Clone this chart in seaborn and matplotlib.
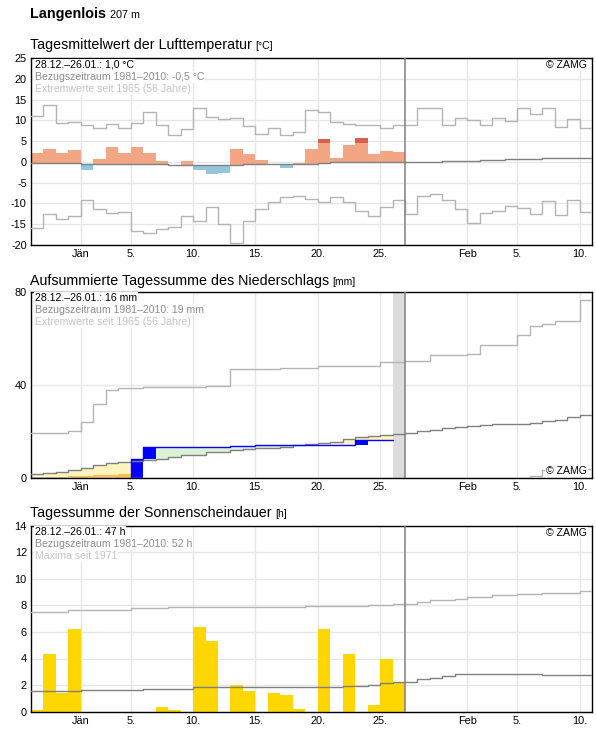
import numpy as np
import matplotlib
matplotlib.use("Agg")
import matplotlib.pyplot as plt
import seaborn as sns

# x position of a day: 0 = 1. Jänner, -4 = 28.12., 40 = 10.02.
days = list(range(-4, 41))
obs_days = list(range(-4, 26))          # 28.12. - 26.01.
tick_pos = [0, 4, 9, 14, 19, 24, 31, 35, 40]
tick_labels = ["Jän", "5.", "10.", "15.", "20.", "25.", "Feb", "5.", "10."]

# --- Lufttemperatur (°C) ---
temp_obs = [2.1, 3.0, 2.1, 2.75, -2.0, 0.8, 3.7, 2.1, 3.5, 2.1, 0.3, -0.7, 0.15, -2.0, -3.0,
            -2.75, 3.0, 1.9, 0.55, -0.4, -1.5, -0.3, 3.2, 5.4, 1.05, 4.0, 5.7, 1.85, 2.6, 2.35]
temp_dark_days = [19, 22]
temp_dark_from = [4.5, 4.5]
temp_ref = [-0.2, -0.3, -0.3, -0.3, -0.4, -0.4, -0.4, -0.4, -0.5, -0.5, -0.5, -0.7, -0.7, -0.7,
            -0.7, -0.7, -0.7, -0.6, -0.5, -0.5, -0.5, -0.5, -0.5, -0.3, -0.1, -0.1, -0.1, -0.1,
            -0.1, -0.1, 0.0, 0.0, 0.0, 0.25, 0.25, 0.25, 0.5, 0.5, 0.75, 0.75, 0.75, 0.95, 0.95,
            0.95, 0.95]
temp_max = [11.1, 13.7, 9.5, 9.7, 8.8, 8.25, 9.2, 8.25, 9.5, 12.0, 8.8, 6.4, 8.0, 13.1, 10.8,
            10.4, 10.5, 8.7, 6.8, 8.25, 6.55, 7.2, 12.4, 12.1, 9.6, 9.05, 8.8, 8.9, 8.25, 8.9,
            8.8, 13.1, 13.1, 9.0, 10.7, 10.0, 9.0, 10.7, 9.8, 12.9, 11.6, 12.9, 8.5, 10.4, 8.25]
temp_min = [-16.0, -12.5, -13.8, -13.1, -9.2, -11.4, -12.4, -12.1, -16.7, -17.2, -16.3, -15.8,
            -13.1, -14.3, -10.9, -15.0, -19.7, -14.3, -11.4, -9.7, -8.5, -8.25, -9.0, -9.7, -8.5,
            -9.7, -11.9, -13.1, -10.9, -9.2, -12.5, -8.2, -7.8, -9.2, -11.4, -14.8, -12.4, -11.9,
            -10.6, -11.2, -12.6, -9.5, -12.8, -9.2, -12.1]

# --- Niederschlag, aufsummiert (mm) ---
precip_obs = [0, 0, 0, 0, 0, 0.3, 0.3, 0.3, 8.2, 13.4, 13.4, 13.4, 13.4, 13.4, 13.4, 13.4,
              13.8, 13.8, 14.3, 14.3, 14.3, 14.3, 14.3, 14.3, 14.3, 14.3, 16.4, 16.4, 16.4, np.nan]
precip_orange = [0, 0.7, 0.7, 0.85, 0.85, 1.4, 1.4, 1.8]
precip_ref = [1.9, 2.3, 2.7, 3.4, 4.4, 5.7, 6.5, 6.9, 7.5, 7.9, 8.35, 9.2, 10.2, 10.2, 11.2,
              11.2, 12.2, 12.5, 13.0, 13.0, 13.55, 14.3, 14.7, 15.0, 15.7, 16.9, 17.7, 18.2,
              18.7, 19.0, 19.5, 20.3, 20.9, 21.6, 21.9, 22.4, 22.8, 23.1, 23.1, 23.1, 23.6,
              24.4, 25.2, 26.1, 27.3]
precip_max = [19.5, 19.5, 19.5, 20.2, 24.2, 32.0, 37.8, 38.6, 38.9, 39.1, 39.3, 39.3, 39.3,
              39.3, 39.4, 39.6, 46.7, 47.0, 47.0, 47.0, 47.2, 47.5, 47.5, 48.1, 48.1, 48.1,
              48.1, 48.1, 49.9, 49.9, 50.3, 50.3, 52.7, 52.7, 52.7, 53.5, 57.0, 57.0, 57.0,
              61.6, 65.5, 66.1, 67.5, 67.5, 76.6]
precip_min = [0] * 40 + [1.0, 3.7, 3.7, 4.0, 4.0]

# --- Sonnenscheindauer (h) ---
sun_obs = [0.13, 4.37, 1.44, 6.19, 0, 0, 0, 0, 0, 0, 0.35, 0.13, 0, 6.36, 5.35, 0, 2.02, 1.57,
           0, 1.41, 1.26, 0.2, 0, 6.19, 0, 4.37, 0, 0.5, 3.99, 2.2]
sun_ref = [1.52, 1.52, 1.52, 1.52, 1.6, 1.6, 1.6, 1.6, 1.6, 1.69, 1.69, 1.69, 1.69, 1.84, 1.84,
           1.84, 1.84, 1.84, 1.84, 1.84, 1.84, 1.84, 1.84, 1.84, 1.84, 1.92, 1.92, 2.0, 2.15,
           2.25, 2.25, 2.45, 2.53, 2.65, 2.8, 2.85, 2.85, 2.85, 2.85, 2.85, 2.85, 2.78, 2.78,
           2.78, 2.78]
sun_max = [7.5, 7.5, 7.5, 7.68, 7.68, 7.68, 7.68, 7.68, 7.78, 7.78, 7.78, 7.85, 7.85, 7.85,
           7.85, 7.85, 7.85, 7.85, 7.85, 7.85, 7.85, 7.85, 7.98, 7.98, 7.98, 7.98, 7.98, 8.03,
           8.03, 8.13, 8.13, 8.28, 8.38, 8.38, 8.48, 8.59, 8.66, 8.74, 8.74, 8.86, 8.86, 8.96,
           8.96, 8.96, 9.04]

W, H = 596, 729
sns.set_theme(style="white")
plt.rcParams["font.family"] = ["Liberation Sans", "DejaVu Sans"]
plt.rcParams["axes.unicode_minus"] = False

fig = plt.figure(figsize=(W / 100, H / 100), dpi=100)
renderer = fig.canvas.get_renderer()


def px_axes(top, bottom, left=31, right=592):
    return fig.add_axes([left / W, 1 - bottom / H, (right - left) / W, (bottom - top) / H])


def step_line(ax, vals, color, x=None):
    x = list(days if x is None else x)
    xs = x + [x[-1] + 1]
    ys = list(vals) + [vals[-1]]
    sns.lineplot(x=xs, y=ys, ax=ax, color=color, lw=1.0, drawstyle="steps-post",
                 estimator=None, sort=False, legend=False, zorder=4)


def setup(ax, yticks, ylim):
    ax.set_xlim(-4, 41)
    ax.set_ylim(*ylim)
    ax.set_xticks(tick_pos)
    ax.set_xticklabels(tick_labels)
    ax.set_yticks(yticks)
    ax.grid(True, color="#e6e6e6", lw=1)
    ax.set_axisbelow(True)
    for s in ax.spines.values():
        s.set_color("black")
        s.set_linewidth(1)
    ax.tick_params(length=0, labelsize=7.9, pad=3, colors="black")
    ax.set_xlabel("")
    ax.set_ylabel("")


def info(ax, lines, zamg_top=True):
    colors = ["black", "#8c8c8c", "#c4c4c4"]
    for i, (txt, c) in enumerate(zip(lines, colors)):
        ax.text(0.007, 0.965 - i * 0.064, txt, transform=ax.transAxes, fontsize=7.6, color=c,
                va="center", ha="left", zorder=6,
                bbox=dict(facecolor="white", edgecolor="none", pad=0.6))
    ypos = 0.962 if zamg_top else 0.04
    ax.text(0.991, ypos, "© ZAMG", transform=ax.transAxes, fontsize=7.6, color="black",
            va="center", ha="right", zorder=6,
            bbox=dict(facecolor="white", edgecolor="none", pad=0.6))


def title(y, main, unit, size_main, size_unit, weight="normal", gap=3.5):
    t = fig.text(30 / W, 1 - y / H, main, fontsize=size_main, weight=weight, va="baseline",
                 color="black")
    bb = t.get_window_extent(renderer)
    fig.text((bb.x1 + gap) / W, 1 - y / H, unit, fontsize=size_unit, va="baseline",
             color="black")


title(18.3, "Langenlois", "207 m", 10.4, 7.8, weight="bold", gap=4.5)

# ---------------- Temperatur ----------------
title(49.3, "Tagesmittelwert der Lufttemperatur", "[°C]", 10.3, 7.5)
ax1 = px_axes(58.3, 244.7)
obs_ref = temp_ref[:len(temp_obs)]
for d, v, r in zip(obs_days, temp_obs, obs_ref):
    col = "#f3a683" if v >= r else "#92c5de"
    ax1.bar(d, v - r, bottom=r, width=1, align="edge", color=col, lw=0, zorder=2)
for d, lo in zip(temp_dark_days, temp_dark_from):
    v = temp_obs[obs_days.index(d)]
    ax1.bar(d, v - lo, bottom=lo, width=1, align="edge", color="#d6604d", lw=0, zorder=3)
step_line(ax1, temp_max, "#b4b4b4")
step_line(ax1, temp_min, "#b4b4b4")
step_line(ax1, temp_ref, "#808080")
ax1.axvline(26, color="#808080", lw=1.1, zorder=5)
setup(ax1, range(-20, 30, 5), (-20, 25))
info(ax1, ["28.12.–26.01.: 1,0 °C", "Bezugszeitraum 1981–2010: -0,5 °C",
           "Extremwerte seit 1965 (56 Jahre)"])

# ---------------- Niederschlag ----------------
title(285, "Aufsummierte Tagessumme des Niederschlags", "[mm]", 10.3, 7.5)
ax2 = px_axes(291.7, 478.3)
prev = 0
for d, v, r in zip(obs_days, precip_obs, precip_ref):
    if np.isnan(v):
        continue
    col = "#fff4bd" if v < r else "#dcf2d5"
    ax2.bar(d, abs(r - v), bottom=min(r, v), width=1, align="edge", color=col, lw=0, zorder=2)
ax2.bar(obs_days[:len(precip_orange)], precip_orange, width=1, align="edge", color="#ffc247",
        lw=0, zorder=3)
for d, v in zip(obs_days, precip_obs):
    if np.isnan(v):
        continue
    if v > prev:
        ax2.bar(d, v - prev, bottom=prev, width=1, align="edge", color="#0000ff", lw=0, zorder=3)
    prev = v
ax2.axvspan(25, 26, color="#dcdcdc", lw=0, zorder=1)
step_line(ax2, precip_max, "#b4b4b4")
step_line(ax2, precip_min, "#b4b4b4")
step_line(ax2, precip_ref, "#808080")
valid = [v for v in precip_obs if not np.isnan(v)]
step_line(ax2, valid, "#0000ff", x=obs_days[:len(valid)])
ax2.axvline(26, color="#808080", lw=1.1, zorder=5)
setup(ax2, [0, 40, 80], (0, 80))
info(ax2, ["28.12.–26.01.: 16 mm", "Bezugszeitraum 1981–2010: 19 mm",
           "Extremwerte seit 1965 (56 Jahre)"], zamg_top=False)

# ---------------- Sonnenschein ----------------
title(517.3, "Tagessumme der Sonnenscheindauer", "[h]", 10.3, 7.5)
ax3 = px_axes(525.5, 711.7)
ax3.bar(obs_days, sun_obs, width=1, align="edge", color="#ffd700", lw=0, zorder=2)
step_line(ax3, sun_max, "#b4b4b4")
step_line(ax3, sun_ref, "#808080")
ax3.axvline(26, color="#808080", lw=1.1, zorder=5)
setup(ax3, range(0, 16, 2), (0, 14))
info(ax3, ["28.12.–26.01.: 47 h", "Bezugszeitraum 1981–2010: 52 h", "Maxima seit 1971"])

fig.savefig("out.png", dpi=100, facecolor="white")
